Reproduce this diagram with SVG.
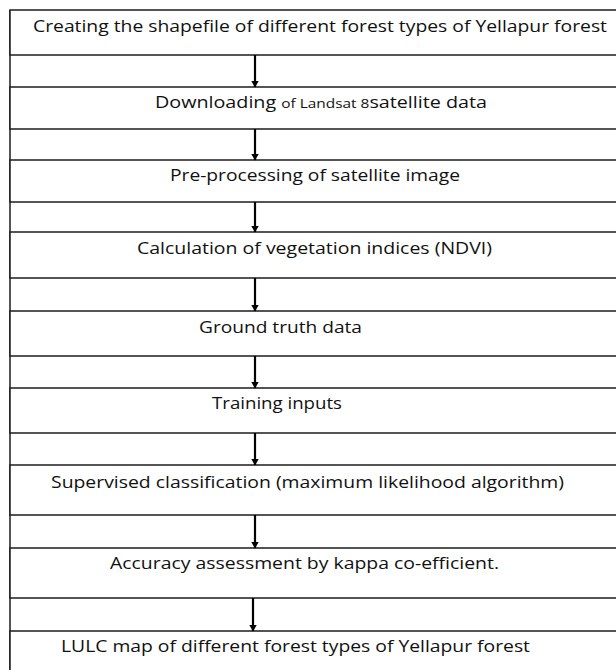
<svg xmlns="http://www.w3.org/2000/svg" width="616" height="670" viewBox="0 0 616 670">
<style>
.box{fill:#ffffff;stroke:#1c1c1c;stroke-width:1.5}
.frame{stroke:#1c1c1c;stroke-width:1.5;fill:none}
.lbl{font-family:"Open Sans","Liberation Sans",sans-serif;font-size:16px;fill:#111111}
.sm{font-size:12.5px}
.arr{stroke:#000000;stroke-width:2.2;fill:none}
</style>
<defs>
<marker id="ah" markerWidth="7" markerHeight="8" refX="6.5" refY="4" orient="auto" markerUnits="userSpaceOnUse">
<path d="M0,0 L7,4 L0,8 Z" fill="#000000"/>
</marker>
</defs>
<rect width="616" height="670" fill="#ffffff"/>
<line class="frame" x1="10" y1="10" x2="10" y2="670"/>
<g id="n1"><rect class="box" x="10" y="10" width="620" height="45"/>
<text class="lbl" x="33" y="32" textLength="574" lengthAdjust="spacingAndGlyphs">Creating the shapefile of different forest types of Yellapur forest</text></g>
<g id="n2"><rect class="box" x="10" y="87" width="620" height="42"/>
<text class="lbl" x="155" y="108" textLength="332" lengthAdjust="spacingAndGlyphs">Downloading <tspan class="sm">of Landsat 8</tspan>satellite data</text></g>
<g id="n3"><rect class="box" x="10" y="160" width="620" height="42"/>
<text class="lbl" x="170" y="181" textLength="290" lengthAdjust="spacingAndGlyphs">Pre-processing of satellite image</text></g>
<g id="n4"><rect class="box" x="10" y="232" width="620" height="46"/>
<text class="lbl" x="137" y="254" textLength="355" lengthAdjust="spacingAndGlyphs">Calculation of vegetation indices (NDVI)</text></g>
<g id="n5"><rect class="box" x="10" y="311" width="620" height="45"/>
<text class="lbl" x="199" y="333" textLength="163" lengthAdjust="spacingAndGlyphs">Ground truth data</text></g>
<g id="n6"><rect class="box" x="10" y="388" width="620" height="45"/>
<text class="lbl" x="212" y="409" textLength="130" lengthAdjust="spacingAndGlyphs">Training inputs</text></g>
<g id="n7"><rect class="box" x="10" y="465" width="620" height="50"/>
<text class="lbl" x="51" y="488" textLength="513" lengthAdjust="spacingAndGlyphs">Supervised classification (maximum likelihood algorithm)</text></g>
<g id="n8"><rect class="box" x="10" y="548" width="620" height="50"/>
<text class="lbl" x="110" y="569" textLength="389" lengthAdjust="spacingAndGlyphs">Accuracy assessment by kappa co-efficient.</text></g>
<g id="n9"><rect class="box" x="10" y="631" width="620" height="60"/>
<text class="lbl" x="61" y="652" textLength="469" lengthAdjust="spacingAndGlyphs">LULC map of different forest types of Yellapur forest</text></g>
<g id="connectors">
<line class="arr" x1="255" y1="55" x2="255" y2="87" marker-end="url(#ah)"/>
<line class="arr" x1="255" y1="129" x2="255" y2="160" marker-end="url(#ah)"/>
<line class="arr" x1="255" y1="202" x2="255" y2="232" marker-end="url(#ah)"/>
<line class="arr" x1="255" y1="278" x2="255" y2="311" marker-end="url(#ah)"/>
<line class="arr" x1="255" y1="356" x2="255" y2="388" marker-end="url(#ah)"/>
<line class="arr" x1="255" y1="433" x2="255" y2="465" marker-end="url(#ah)"/>
<line class="arr" x1="255" y1="515" x2="255" y2="548" marker-end="url(#ah)"/>
<line class="arr" x1="253" y1="598" x2="253" y2="631" marker-end="url(#ah)"/>
</g>
</svg>
